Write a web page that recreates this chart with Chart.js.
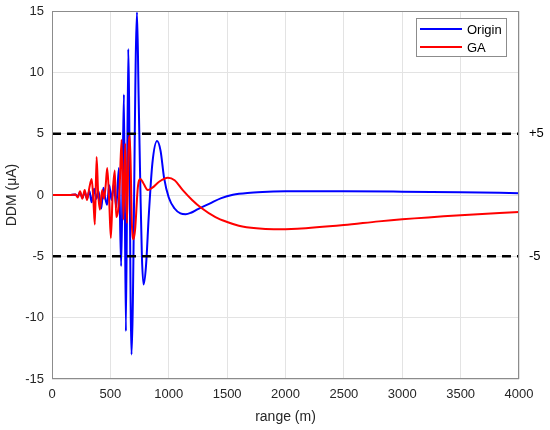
<!DOCTYPE html>
<html>
<head>
<meta charset="utf-8">
<script src="https://cdn.jsdelivr.net/npm/chart.js@4.4.1/dist/chart.umd.min.js"></script>
<style>
	html, body { margin: 0; padding: 0; background: #fff; }
</style>
</head>
<body>
<canvas id="ddm-chart" width="550" height="430"></canvas>
<script>
// values
const originX = [
	0, 150, 200, 220, 240, 260, 280, 300, 320, 340, 360, 380, 398, 422, 440,
	455, 472, 490, 510, 530, 550, 573, 592, 605, 616, 633, 653, 681, 728, 742,
	757, 770, 784, 805, 830, 860, 900, 930, 960, 1000, 1050, 1100, 1145, 1190,
	1250, 1350, 1450, 1550, 1700, 1850, 2000, 2500, 3000, 3500, 4000
]
const originY = [
	0, 0, 0.05, -0.1, 0.2, -0.25, 0.25, -0.3, 0.35, -0.6, 0.5, -0.3, 0.3, -1.1, 0.6,
	-0.2, -0.8, 0.8, -0.4, 0.9, -1.0, 2.2, -5.8, 1.5, 8.2, -11.1, 11.9, -13.0, 14.9, 8,
	0.5, -5, -7.3, -5.8, -1.5, 2.6, 4.4, 3.6, 1.4, -0.2, -1.1, -1.5, -1.57, -1.45,
	-1.15, -0.7, -0.25, 0.02, 0.18, 0.26, 0.3, 0.3, 0.27, 0.22, 0.15
]
const gaX = [
	0, 150, 200, 220, 240, 260, 280, 300, 320, 340, 355, 367, 382, 395, 410,
	430, 445, 460, 473, 490, 504, 520, 538, 550, 567, 580, 596, 612, 627, 642,
	655, 667, 684, 698, 712, 735, 758, 780, 821, 860, 920, 992, 1050, 1120, 1200,
	1280, 1400, 1500, 1600, 1750, 1900, 2100, 2500, 2800, 3000, 3500, 4000
]
const gaY = [
	0, 0, 0.05, -0.2, 0.3, -0.3, 0.4, -0.4, 0.6, 1.3, -0.5, -2.4, 3.1, 0.2, -1.2,
	0.4, -0.3, 0.8, 2.2, -0.5, -3.5, 0.2, 2.0, -1.8, -1.2, 0.8, 4.5, -2.0, 4.2, -2.3,
	3.5, 4.8, -2.3, -3.6, -2.8, 0.6, 1.3, 1.0, 0.4, 0.6, 1.1, 1.4, 1.2, 0.4, -0.4,
	-1.06, -1.8, -2.2, -2.5, -2.72, -2.8, -2.75, -2.45, -2.15, -1.98, -1.65, -1.38
]
const xTicks = [0, 500, 1000, 1500, 2000, 2500, 3000, 3500, 4000]
const yTicks = [-15, -10, -5, 0, 5, 10, 15]
const limitLevels = [5, -5]
const limitLabels = ['+5', '-5']

const toPoints = (xs, ys) => xs.map((x, i) => ({ x: x, y: ys[i] }))
const xMin = xTicks[0]
const xMax = xTicks[xTicks.length - 1]

Chart.defaults.font.family = "'Liberation Sans', Arial, sans-serif"
Chart.defaults.font.size = 13
Chart.defaults.color = '#262626'

const gridColor = '#e3e3e3'
const frameColor = '#8c8c8c'

// matlab style box round the plot area
const frame = {
	id: 'frame',
	afterDatasetsDraw(chart) {
		const { ctx, chartArea } = chart
		ctx.save()
		ctx.strokeStyle = frameColor
		ctx.lineWidth = 1
		ctx.strokeRect(chartArea.left + 0.5, chartArea.top + 0.5,
			chartArea.right - chartArea.left - 1, chartArea.bottom - chartArea.top - 1)
		ctx.restore()
	}
}

// legend in a box, top right inside the axes
const boxLegend = {
	id: 'boxLegend',
	afterDraw(chart) {
		const { ctx, chartArea } = chart
		const items = chart.data.datasets.filter((d) => d.inLegend)
		const x0 = chartArea.right - 103
		const y0 = chartArea.top + 7
		const rowH = 18
		ctx.save()
		ctx.fillStyle = '#fff'
		ctx.fillRect(x0, y0, 90, items.length * rowH + 2)
		ctx.strokeStyle = frameColor
		ctx.lineWidth = 1
		ctx.strokeRect(x0 + 0.5, y0 + 0.5, 90, items.length * rowH + 2)
		ctx.font = "13px 'Liberation Sans', Arial, sans-serif"
		ctx.textBaseline = 'middle'
		items.forEach((d, i) => {
			const yy = y0 + 11 + i * rowH
			ctx.strokeStyle = d.borderColor
			ctx.lineWidth = 2
			ctx.beginPath()
			ctx.moveTo(x0 + 4, yy)
			ctx.lineTo(x0 + 46, yy)
			ctx.stroke()
			ctx.fillStyle = '#000'
			ctx.fillText(d.label, x0 + 51, yy + 1)
		})
		ctx.restore()
	}
}

const limitSets = limitLevels.map((v) => ({
	label: 'limit ' + v,
	data: [{ x: xMin, y: v }, { x: xMax, y: v }],
	borderColor: '#000',
	borderWidth: 2.5,
	borderDash: [9, 6],
	pointRadius: 0,
	showLine: true,
	order: 0,
	inLegend: false
}))

// fixed axis sizes so the plot box sits where the reference has it
const fitY = (w) => (scale) => {
	scale.width = w
	scale.paddingTop = 0
	scale.paddingBottom = 0
}

new Chart(document.getElementById('ddm-chart'), {
	type: 'scatter',
	data: {
		datasets: [
			{
				label: 'Origin',
				data: toPoints(originX, originY),
				borderColor: '#0000ff',
				backgroundColor: '#0000ff',
				borderWidth: 2,
				pointRadius: 0,
				showLine: true,
				cubicInterpolationMode: 'monotone',
				order: 2,
				inLegend: true
			},
			{
				label: 'GA',
				data: toPoints(gaX, gaY),
				borderColor: '#ff0000',
				backgroundColor: '#ff0000',
				borderWidth: 2,
				pointRadius: 0,
				showLine: true,
				cubicInterpolationMode: 'monotone',
				order: 1,
				inLegend: true
			},
			...limitSets
		]
	},
	options: {
		responsive: false,
		animation: false,
		devicePixelRatio: 1,
		layout: { padding: { top: 11, left: 0, right: 0, bottom: 0 } },
		plugins: {
			legend: { display: false },
			tooltip: { enabled: false }
		},
		scales: {
			x: {
				type: 'linear',
				min: xMin,
				max: xMax,
				afterBuildTicks: (scale) => { scale.ticks = xTicks.map((v) => ({ value: v })) },
				afterFit: (scale) => {
					scale.height = 51
					scale.paddingLeft = 0
					scale.paddingRight = 0
				},
				grid: { color: gridColor, drawTicks: false },
				border: { display: false },
				ticks: { padding: 8, maxRotation: 0, callback: (v) => String(v) },
				title: { display: true, text: 'range (m)', font: { size: 14 }, padding: { top: 3 } }
			},
			y: {
				min: yTicks[0],
				max: yTicks[yTicks.length - 1],
				afterBuildTicks: (scale) => { scale.ticks = yTicks.map((v) => ({ value: v })) },
				afterFit: fitY(52),
				grid: { color: gridColor, drawTicks: false },
				border: { display: false },
				ticks: { padding: 8, callback: (v) => String(v) },
				title: { display: true, text: 'DDM (μA)', font: { size: 14 }, padding: { bottom: 0 } }
			},
			y2: {
				position: 'right',
				min: yTicks[0],
				max: yTicks[yTicks.length - 1],
				afterBuildTicks: (scale) => { scale.ticks = limitLevels.map((v) => ({ value: v })) },
				afterFit: fitY(31),
				grid: { display: false, drawTicks: false },
				border: { display: false },
				ticks: {
					padding: 10,
					color: '#000',
					callback: (v) => limitLabels[limitLevels.indexOf(v)]
				}
			}
		}
	},
	plugins: [frame, boxLegend]
})
</script>
</body>
</html>
